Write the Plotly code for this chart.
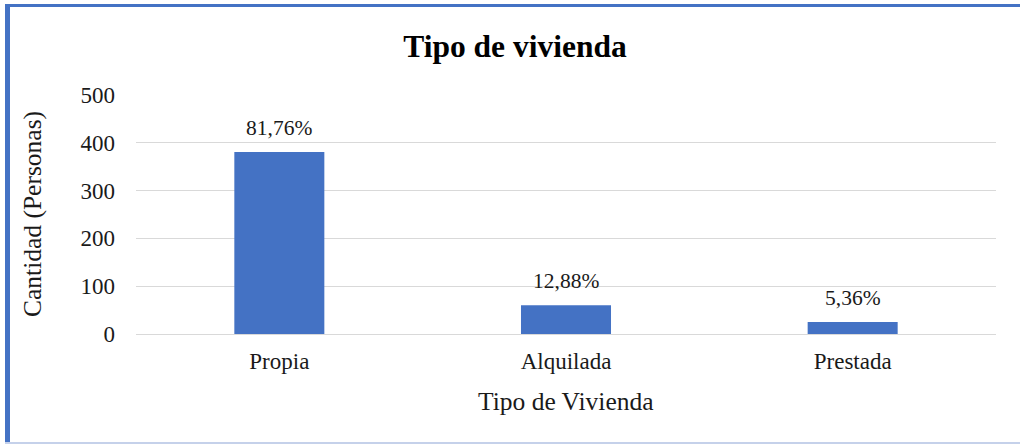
import plotly.graph_objects as go

categories = ["Propia", "Alquilada", "Prestada"]
values = [381, 60, 25]
pct_labels = ["81,76%", "12,88%", "5,36%"]
y_ticks = [0, 100, 200, 300, 400, 500]

W, H = 1020, 444
L, R, T, B = 136, 24, 95, 110
pw, ph = W - L - R, H - T - B

def px(x):
    return (x - L) / pw

def py(y):
    return (H - B - y) / ph

FONT = "Liberation Serif, Times New Roman, serif"
TXT = "#1a1a1a"

fig = go.Figure()
fig.add_trace(go.Bar(
    x=categories, y=values,
    marker=dict(color="#4472c4", line=dict(width=0)),
    width=0.314,
    hoverinfo="skip",
))

for c, v, t in zip(categories, values, pct_labels):
    fig.add_annotation(x=c, y=v, text=t, showarrow=False, yshift=24,
                       yanchor="middle",
                       font=dict(family=FONT, size=21.5, color=TXT))

# axis titles
fig.add_annotation(xref="paper", yref="paper", x=0.5, y=py(401), text="Tipo de Vivienda",
                   showarrow=False, xanchor="center", yanchor="middle",
                   font=dict(family=FONT, size=25.5, color=TXT))
fig.add_annotation(xref="paper", yref="paper", x=px(32), y=py(214), text="Cantidad (Personas)",
                   showarrow=False, xanchor="center", yanchor="middle", textangle=-90,
                   font=dict(family=FONT, size=25.5, color=TXT))

shapes = [
    dict(type="rect", xref="paper", yref="paper", x0=px(5), x1=px(1020), y0=py(4), y1=py(7),
         fillcolor="#4472c4", line=dict(width=0), layer="above"),
    dict(type="rect", xref="paper", yref="paper", x0=px(5), x1=px(10), y0=py(4), y1=py(444),
         fillcolor="#4472c4", line=dict(width=0), layer="above"),
    dict(type="rect", xref="paper", yref="paper", x0=px(5), x1=px(1020), y0=py(442), y1=py(444),
         fillcolor="#c5d1ea", line=dict(width=0), layer="above"),
]

fig.update_layout(
    width=W, height=H,
    margin=dict(l=L, r=R, t=T, b=B, autoexpand=False),
    paper_bgcolor="white", plot_bgcolor="white",
    showlegend=False,
    title=dict(text="<b>Tipo de vivienda</b>", x=515 / W, xref="container", xanchor="center",
               y=1 - 46 / H, yanchor="middle",
               font=dict(family=FONT, size=31.5, color="#000")),
    font=dict(family=FONT, size=23, color=TXT),
    xaxis=dict(
        showgrid=False, showline=False, zeroline=False, ticks="",
        tickfont=dict(family=FONT, size=23, color=TXT),
        ticklabelstandoff=11,
    ),
    yaxis=dict(
        range=[0, 500], tickvals=y_ticks, showgrid=True, gridcolor="#d9d9d9", gridwidth=1,
        zeroline=True, zerolinecolor="#d9d9d9", zerolinewidth=1, showline=False, ticks="",
        tickfont=dict(family=FONT, size=23, color=TXT),
        ticklabelstandoff=20,
    ),
    shapes=shapes,
)

fig.write_html("out.html", config={"displayModeBar": False},
               post_script="document.body.style.margin='0';document.body.style.overflow='hidden';")
